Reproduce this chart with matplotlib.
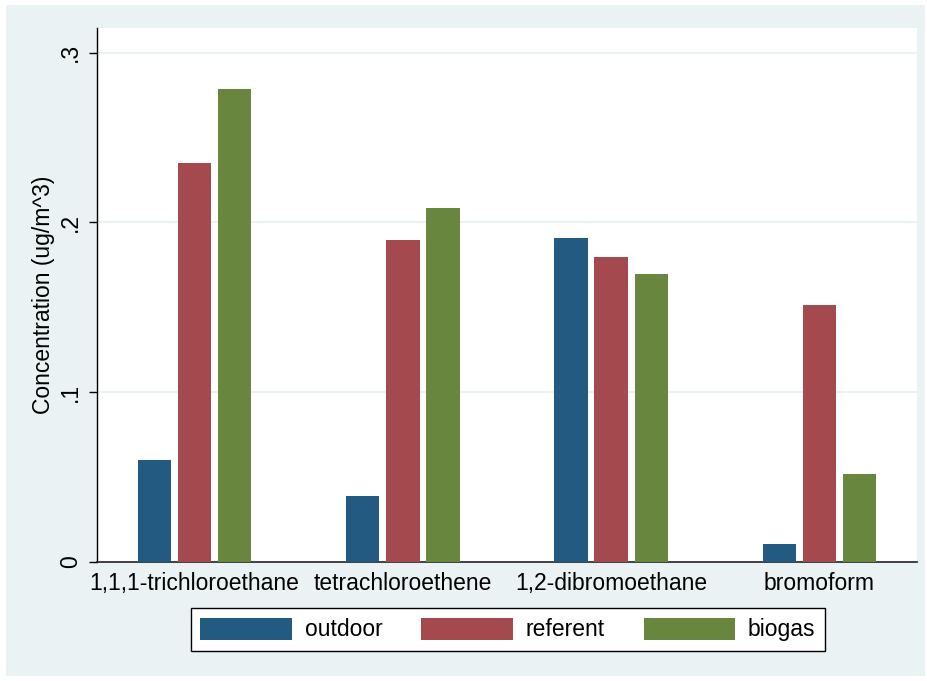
import matplotlib
matplotlib.use("Agg")
import matplotlib.pyplot as plt
from matplotlib.patches import Rectangle, Patch
import numpy as np

categories = ["1,1,1-trichloroethane", "tetrachloroethene", "1,2-dibromoethane", "bromoform"]
series_names = ["outdoor", "referent", "biogas"]
outdoor = [0.060, 0.0388, 0.191, 0.0108]
referent = [0.2347, 0.1894, 0.1796, 0.1513]
biogas = [0.2788, 0.2082, 0.1695, 0.0521]
yticks = [0, 0.1, 0.2, 0.3]
ytick_labels = ["0", ".1", ".2", ".3"]

colors = ["#235A82", "#A4494E", "#68863D"]
pale = "#EAF2F3"

plt.rcParams["font.family"] = ["Liberation Sans", "DejaVu Sans"]
FS = 16.5

W, H = 928, 681
fig = plt.figure(figsize=(W / 100, H / 100), dpi=100)
fig.patch.set_facecolor("white")
bg = Rectangle((6 / W, 5 / H), (925 - 6) / W, (676 - 5) / H,
               transform=fig.transFigure, facecolor=pale, edgecolor="none", zorder=-10)
fig.patches.append(bg)

ax = fig.add_axes([97 / W, 1 - 562 / H, (917 - 97) / W, (562 - 28) / H])
ax.set_zorder(1)
ax.set_facecolor("white")

x = np.arange(len(categories))
width = 0.161
step = 0.193
for i, (vals, c) in enumerate(zip([outdoor, referent, biogas], colors)):
    ax.bar(x + (i - 1) * step, vals, width=width, color=c, edgecolor="none",
           zorder=3, label=series_names[i])

ax.set_xlim(-0.468, 3.468)
ax.set_ylim(0, 0.3145)
ax.set_yticks(yticks)
ax.set_yticklabels(ytick_labels, rotation=90, va="center", fontsize=FS)
ax.set_xticks(x)
ax.set_xticklabels(categories, fontsize=FS)
ax.tick_params(axis="x", length=0, pad=7)
ax.tick_params(axis="y", length=6, width=1, direction="out", pad=5)
for yv in yticks[1:]:
    ax.axhline(yv, color=pale, lw=1.5, zorder=1)
for s in ["top", "right"]:
    ax.spines[s].set_visible(False)
ax.spines["left"].set_color("black")
ax.spines["bottom"].set_color("#222222")
ax.spines["left"].set_linewidth(1)
ax.spines["bottom"].set_linewidth(1.2)
ax.set_ylabel("Concentration (ug/m^3)", fontsize=FS, labelpad=3)

handles = [Patch(facecolor=c, edgecolor="none") for c in colors]
leg = fig.legend(handles, series_names, loc="center", bbox_to_anchor=(508 / W, 1 - 629.5 / H),
                 ncol=3, fontsize=FS, frameon=True, fancybox=False, framealpha=1,
                 handlelength=4.0, handleheight=1.1, handletextpad=0.55,
                 columnspacing=1.7, borderpad=0.4, borderaxespad=0)
leg.get_frame().set_edgecolor("black")
leg.get_frame().set_linewidth(1)
leg.get_frame().set_facecolor("white")

fig.savefig("out.png", dpi=100, facecolor=fig.get_facecolor())
